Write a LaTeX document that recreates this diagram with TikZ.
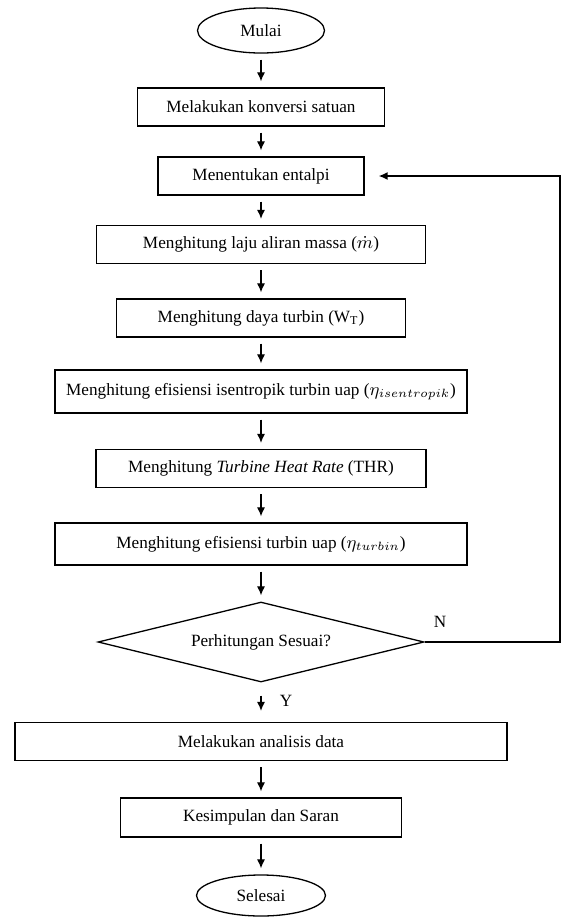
\documentclass[tikz,border=0pt]{standalone}
\usepackage{fontspec}
\usepackage{amsmath}
\setmainfont{Liberation Serif}
\usetikzlibrary{shapes,arrows.meta,positioning,calc}

\tikzset{
    proses/.style={draw, rectangle, line width=0.65pt, minimum height=19pt, inner sep=0pt},
    terminal/.style={draw, ellipse, line width=0.65pt, inner sep=0pt},
    keputusan/.style={draw, diamond, aspect=4, line width=0.65pt, inner sep=0pt},
    panah/.style={-{Latex[length=4.5pt,width=4pt]}, line width=0.55pt, shorten <=3pt, shorten >=3pt},
    balik/.style={-{Latex[length=4.5pt,width=4pt]}, line width=0.75pt, shorten >=7pt}
}

\begin{document}
\begin{tikzpicture}[x=0.5pt, y=-0.5pt, font=\fontsize{8.6}{10}\selectfont]
    \useasboundingbox (0,0) rectangle (561,917);

    % Start and main steps
    \node[terminal, minimum width=63.5pt, minimum height=22.5pt] (mulai) at (261,30.5) {Mulai};
    \node[proses, minimum width=123.5pt] (konversi) at (261,107) {Melakukan konversi satuan};
    \node[proses, minimum width=103pt] (entalpi) at (261,176) {Menentukan entalpi};
    \node[proses, minimum width=164.5pt] (laju) at (261,244.5) {Menghitung laju aliran massa ($\dot{m}$)};
    \node[proses, minimum width=144.5pt] (daya) at (261,318) {Menghitung daya turbin (W\textsubscript{T})};
    \node[proses, minimum width=206pt, minimum height=21.5pt] (isentropik) at (261,391.5) {Menghitung efisiensi isentropik turbin uap ($\eta_{isentropik}$)};
    \node[proses, minimum width=165pt] (thr) at (261,468.5) {Menghitung \textit{Turbine Heat Rate} (THR)};
    \node[proses, minimum width=206pt, minimum height=21pt] (efturbin) at (261,544) {Menghitung efisiensi turbin uap ($\eta_{turbin}$)};

    % Decision
    \node[keputusan, minimum width=163pt, minimum height=40pt] (cek) at (261,642) {Perhitungan Sesuai?};
    \node (labeln) at (440,622) {N};
    \node (labely) at (286,701) {Y};

    % Closing steps
    \node[proses, minimum width=246pt] (analisis) at (261,741.5) {Melakukan analisis data};
    \node[proses, minimum width=140.5pt, minimum height=19.5pt] (simpulan) at (261,817.5) {Kesimpulan dan Saran};
    \node[terminal, minimum width=64.5pt, minimum height=20.5pt] (selesai) at (261,895.5) {Selesai};

    % Arrows
    \draw[panah] (mulai) -- (konversi);
    \draw[panah] (konversi) -- (entalpi);
    \draw[panah] (entalpi) -- (laju);
    \draw[panah] (laju) -- (daya);
    \draw[panah] (daya) -- (isentropik);
    \draw[panah] (isentropik) -- (thr);
    \draw[panah] (thr) -- (efturbin);
    \draw[panah] (efturbin) -- (cek);
    \draw[panah, shorten <=6.5pt, shorten >=5.5pt] (cek) -- (analisis);
    \draw[panah] (analisis) -- (simpulan);
    \draw[panah] (simpulan) -- (selesai);

    % Loop back when not matching
    \coordinate (pojok) at (560,642);
    \draw[balik] (cek.east) -- (pojok) |- (entalpi.east);
\end{tikzpicture}
\end{document}
